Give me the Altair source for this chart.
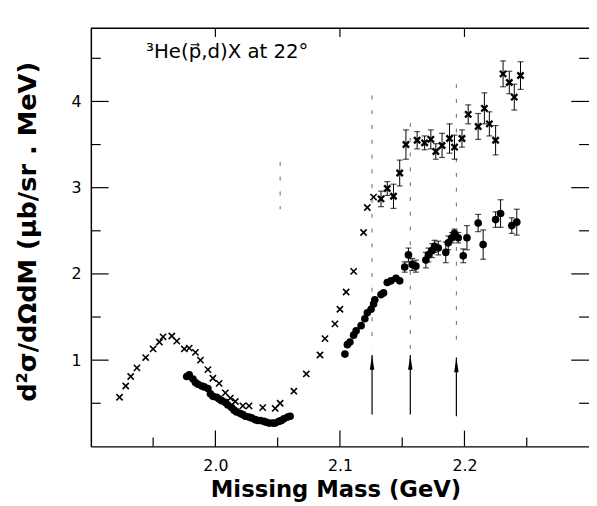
import altair as alt
import pandas as pd

# crosses without visible error bars
cross_x = [1.923, 1.928, 1.932, 1.937, 1.944, 1.950, 1.955, 1.958, 1.965, 1.969,
           1.975, 1.979, 1.984, 1.988, 1.994, 1.998, 2.003, 2.008, 2.012, 2.016,
           2.022, 2.027, 2.038, 2.048, 2.052, 2.063, 2.073, 2.084, 2.088, 2.096,
           2.100, 2.105, 2.111, 2.119, 2.122, 2.127]
cross_y = [0.57, 0.70, 0.81, 0.91, 1.03, 1.13, 1.21, 1.27, 1.28, 1.22,
           1.13, 1.14, 1.09, 1.00, 0.89, 0.79, 0.73, 0.62, 0.56, 0.52,
           0.47, 0.47, 0.45, 0.44, 0.50, 0.64, 0.84, 1.06, 1.25, 1.42,
           1.59, 1.79, 2.03, 2.48, 2.77, 2.89]

# crosses with error bars
crossE_x = [2.133, 2.138, 2.143, 2.148, 2.153, 2.162, 2.168, 2.173, 2.177, 2.182,
            2.188, 2.192, 2.198, 2.203, 2.211, 2.216, 2.220, 2.225, 2.231, 2.236,
            2.240, 2.245]
crossE_y = [2.87, 2.99, 2.90, 3.17, 3.50, 3.55, 3.52, 3.56, 3.42, 3.49,
            3.57, 3.47, 3.57, 3.85, 3.71, 3.92, 3.74, 3.55, 4.32, 4.22,
            4.05, 4.30]
crossE_err = [0.09, 0.08, 0.14, 0.15, 0.17, 0.10, 0.08, 0.11, 0.09, 0.14,
              0.17, 0.14, 0.10, 0.11, 0.15, 0.18, 0.14, 0.17, 0.15, 0.13,
              0.15, 0.16]

# dots without visible error bars
dot_x = [1.977, 1.979, 1.982, 1.984, 1.986, 1.989, 1.991, 1.994, 1.996, 1.998,
         2.001, 2.003, 2.005, 2.008, 2.010, 2.013, 2.015, 2.017, 2.020, 2.022,
         2.024, 2.027, 2.029, 2.032, 2.034, 2.036, 2.039, 2.041, 2.043, 2.046,
         2.048, 2.051, 2.053, 2.055, 2.058, 2.060,
         2.104, 2.106, 2.108, 2.111, 2.113, 2.117, 2.120, 2.122, 2.125, 2.127,
         2.128, 2.133, 2.135, 2.138, 2.141, 2.145, 2.148]
dot_y = [0.81, 0.83, 0.78, 0.74, 0.72, 0.70, 0.69, 0.67, 0.61, 0.58,
         0.57, 0.55, 0.53, 0.51, 0.48, 0.45, 0.42, 0.40, 0.38, 0.37,
         0.35, 0.34, 0.33, 0.31, 0.30, 0.30, 0.29, 0.28, 0.27, 0.27,
         0.27, 0.29, 0.30, 0.32, 0.34, 0.35,
         1.07, 1.18, 1.21, 1.29, 1.34, 1.40, 1.48, 1.55, 1.59, 1.65,
         1.70, 1.76, 1.78, 1.90, 1.92, 1.95, 1.92]

# dots with error bars
dotE_x = [2.152, 2.155, 2.158, 2.161, 2.169, 2.171, 2.174, 2.176, 2.179, 2.185,
          2.187, 2.190, 2.192, 2.195, 2.199, 2.202, 2.211, 2.215, 2.225, 2.229,
          2.238, 2.242]
dotE_y = [2.08, 2.22, 2.11, 2.09, 2.16, 2.22, 2.27, 2.32, 2.30, 2.25,
          2.36, 2.42, 2.47, 2.42, 2.21, 2.42, 2.59, 2.34, 2.63, 2.70,
          2.56, 2.60]
dotE_err = [0.06, 0.08, 0.07, 0.07, 0.09, 0.08, 0.08, 0.07, 0.08, 0.12,
            0.08, 0.06, 0.05, 0.06, 0.08, 0.14, 0.10, 0.17, 0.09, 0.16,
            0.09, 0.15]

x_major = [2.0, 2.1, 2.2]
x_minor = [1.95, 2.05, 2.15, 2.25]
y_major = [1, 2, 3, 4]
y_minor = [0.5, 1.5, 2.5, 3.5, 4.5]

marker_x = [2.1258, 2.1565, 2.1935]
dash_top = [4.07, 3.75, 4.20]
dash_bottom = [1.15, 1.12, 1.15]
arrow_tip = [1.06, 1.06, 1.03]
arrow_base = [0.37, 0.37, 0.35]

extra_dash_x = [2.052]
extra_dash_top = [3.3]
extra_dash_bottom = [2.75]

W, H = 505, 424
XD = [1.9, 2.3]
YD = [0.0, 4.85]

xs = alt.Scale(domain=XD, nice=False, zero=False)
ys = alt.Scale(domain=YD, nice=False, zero=False)

def X(field="x", **kw):
    return alt.X(field, type="quantitative", scale=xs, **kw)

def Y(field="y", **kw):
    return alt.Y(field, type="quantitative", scale=ys, **kw)

cross_df = pd.DataFrame({"x": cross_x, "y": cross_y})
crossE_df = pd.DataFrame({"x": crossE_x, "y": crossE_y, "e": crossE_err})
crossE_df["lo"] = crossE_df.y - crossE_df.e
crossE_df["hi"] = crossE_df.y + crossE_df.e
dot_df = pd.DataFrame({"x": dot_x, "y": dot_y})
dotE_df = pd.DataFrame({"x": dotE_x, "y": dotE_y, "e": dotE_err})
dotE_df["lo"] = dotE_df.y - dotE_df.e
dotE_df["hi"] = dotE_df.y + dotE_df.e

xaxis = alt.Axis(values=x_major, format=".1f", ticks=False, grid=False,
                 domainColor="black", domainWidth=1.5,
                 labelFont="DejaVu Sans", labelFontSize=16, labelColor="black",
                 labelPadding=11, title="Missing Mass (GeV)",
                 titleFont="DejaVu Sans", titleFontSize=23, titleFontWeight="bold",
                 titleColor="black", titleX=248, titleY=51,
                 titleBaseline="alphabetic", titleAlign="center")
yaxis = alt.Axis(values=y_major, format="d", ticks=False, grid=False,
                 domainColor="black", domainWidth=1.5,
                 labelFont="DejaVu Sans", labelFontSize=16, labelColor="black",
                 labelPadding=10, title="d²σ/dΩdM (μb/sr . MeV)",
                 titleFont="DejaVu Sans", titleFontSize=26, titleFontWeight="bold",
                 titleColor="black", titleX=-64, titleY=206, titleAngle=-90,
                 titleBaseline="middle", titleAlign="center")

xpath = "M-1,-1L1,1M-1,1L1,-1"
crosses = alt.Chart(cross_df).mark_point(shape=xpath, filled=False, size=40,
                                         color="black", strokeWidth=1.6,
                                         opacity=1).encode(
    x=X(axis=xaxis), y=Y(axis=yaxis))
crossE_bar = alt.Chart(crossE_df).mark_rule(color="black", strokeWidth=1).encode(
    x=X(), y=Y("lo"), y2="hi")
crossE_capl = alt.Chart(crossE_df).mark_tick(color="black", orient="horizontal",
                                             size=6, thickness=1.2).encode(x=X(), y=Y("lo"))
crossE_caph = alt.Chart(crossE_df).mark_tick(color="black", orient="horizontal",
                                             size=6, thickness=1.2).encode(x=X(), y=Y("hi"))
crossE_pts = alt.Chart(crossE_df).mark_point(shape=xpath, filled=False, size=40,
                                             color="black", strokeWidth=2.4,
                                             opacity=1).encode(
    x=X(), y=Y())

dots = alt.Chart(dot_df).mark_circle(color="black", size=60, opacity=1).encode(
    x=X(), y=Y())
dotE_bar = alt.Chart(dotE_df).mark_rule(color="black", strokeWidth=1).encode(
    x=X(), y=Y("lo"), y2="hi")
dotE_capl = alt.Chart(dotE_df).mark_tick(color="black", orient="horizontal",
                                         size=6, thickness=1.2).encode(x=X(), y=Y("lo"))
dotE_caph = alt.Chart(dotE_df).mark_tick(color="black", orient="horizontal",
                                         size=6, thickness=1.2).encode(x=X(), y=Y("hi"))
dotE_pts = alt.Chart(dotE_df).mark_circle(color="black", size=60, opacity=1).encode(
    x=X(), y=Y())

mk_df = pd.DataFrame({"x": marker_x, "top": dash_top, "bot": dash_bottom,
                      "tip": arrow_tip, "base": arrow_base})
ex_df = pd.DataFrame({"x": extra_dash_x, "top": extra_dash_top,
                      "bot": extra_dash_bottom})
dash_style = dict(color="#666", strokeWidth=1, strokeDash=[4, 11])
dashes = alt.Chart(mk_df).mark_rule(**dash_style).encode(
    x=X(), y=Y("top"), y2="bot")
dashes2 = alt.Chart(ex_df).mark_rule(**dash_style).encode(
    x=X(), y=Y("top"), y2="bot")
shafts = alt.Chart(mk_df).mark_rule(color="black", strokeWidth=1.2).encode(
    x=X(), y=Y("base"), y2="tip")
heads = alt.Chart(mk_df).mark_point(shape="M0,0L0.3,2L-0.3,2Z", size=225,
                                    filled=True, color="black", opacity=1).encode(
    x=X(), y=Y("tip"))

# frame top and inward ticks
frame_top = alt.Chart(pd.DataFrame({"v": [0]})).mark_rule(
    color="black", strokeWidth=1.5).encode(
    x=alt.value(0), x2=alt.value(W), y=alt.value(0))
xM = pd.DataFrame({"v": x_major})
xm = pd.DataFrame({"v": x_minor})
yM = pd.DataFrame({"v": y_major})
ym = pd.DataFrame({"v": y_minor})
tick_style = dict(color="black", strokeWidth=1.2)
bt_major = alt.Chart(xM).mark_rule(**tick_style).encode(
    x=X("v"), y=alt.value(H), y2=alt.value(H - 16))
bt_minor = alt.Chart(xm).mark_rule(**tick_style).encode(
    x=X("v"), y=alt.value(H), y2=alt.value(H - 9))
tp_major = alt.Chart(xM).mark_rule(**tick_style).encode(
    x=X("v"), y=alt.value(0), y2=alt.value(9))
lt_major = alt.Chart(yM).mark_rule(**tick_style).encode(
    y=Y("v"), x=alt.value(0), x2=alt.value(18))
lt_minor = alt.Chart(ym).mark_rule(**tick_style).encode(
    y=Y("v"), x=alt.value(0), x2=alt.value(10))
rt_major = alt.Chart(yM).mark_rule(**tick_style).encode(
    y=Y("v"), x=alt.value(W), x2=alt.value(W - 18))
rt_minor = alt.Chart(ym).mark_rule(**tick_style).encode(
    y=Y("v"), x=alt.value(W), x2=alt.value(W - 10))

label = alt.Chart(pd.DataFrame({"t": ["³He(p⃗,d)X at 22°"]})).mark_text(
    align="left", baseline="alphabetic", font="DejaVu Sans", fontSize=20,
    color="black").encode(text="t", x=alt.value(56), y=alt.value(30))

chart = alt.layer(
    crosses,
    frame_top, bt_major, bt_minor, tp_major, lt_major, lt_minor, rt_major, rt_minor,
    dashes, dashes2, shafts, heads,
    crossE_bar, crossE_capl, crossE_caph, crossE_pts,
    dots, dotE_bar, dotE_capl, dotE_caph, dotE_pts,
    label,
).properties(
    width=W, height=H,
    autosize=alt.AutoSizeParams(type="none"),
    padding={"left": 84, "top": 17, "right": 0, "bottom": 56},
    background="white",
).configure_view(stroke=None)

chart.save("out.html", embed_options={"renderer": "svg", "actions": False})
